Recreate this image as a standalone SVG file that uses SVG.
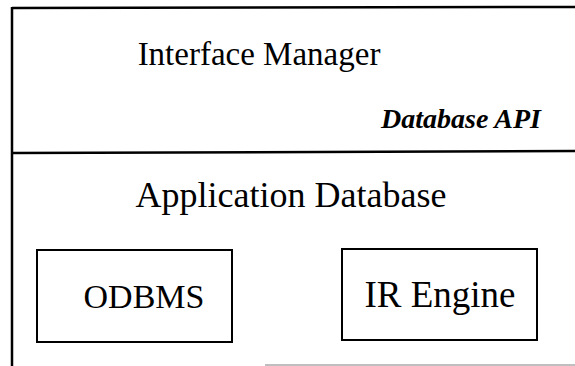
<svg xmlns="http://www.w3.org/2000/svg" width="575" height="366" viewBox="0 0 575 366">
<style>
.frame{stroke:#000;stroke-width:2.5;fill:none}
.box{stroke:#000;stroke-width:2;fill:#fff}
.t{font-family:"Liberation Serif","Times New Roman",serif;fill:#000}
.api{font-size:28px;font-weight:bold;font-style:italic}
</style>
<rect width="575" height="366" fill="#fff"/>
<g id="interface-manager">
<line class="frame" x1="12" y1="8" x2="575" y2="7"/>
<text class="t" x="259" y="65" font-size="33" text-anchor="middle">Interface Manager</text>
<text class="t api" x="541" y="128" text-anchor="end">Database API</text>
</g>
<g id="application-database">
<line class="frame" x1="12" y1="153" x2="575" y2="151"/>
<line class="frame" x1="12" y1="7" x2="12" y2="366"/>
<line x1="265" y1="365" x2="575" y2="365" stroke="#aaa" stroke-width="1.5"/>
<text class="t" x="291" y="207" font-size="36" text-anchor="middle">Application Database</text>
</g>
<g id="odbms">
<rect class="box" x="37" y="250" width="195" height="92"/>
<text class="t" x="144" y="308" font-size="34" text-anchor="middle">ODBMS</text>
</g>
<g id="ir-engine">
<rect class="box" x="342" y="249" width="195" height="91"/>
<text class="t" x="440" y="307" font-size="37" text-anchor="middle">IR Engine</text>
</g>
<g id="connectors"></g>
</svg>
